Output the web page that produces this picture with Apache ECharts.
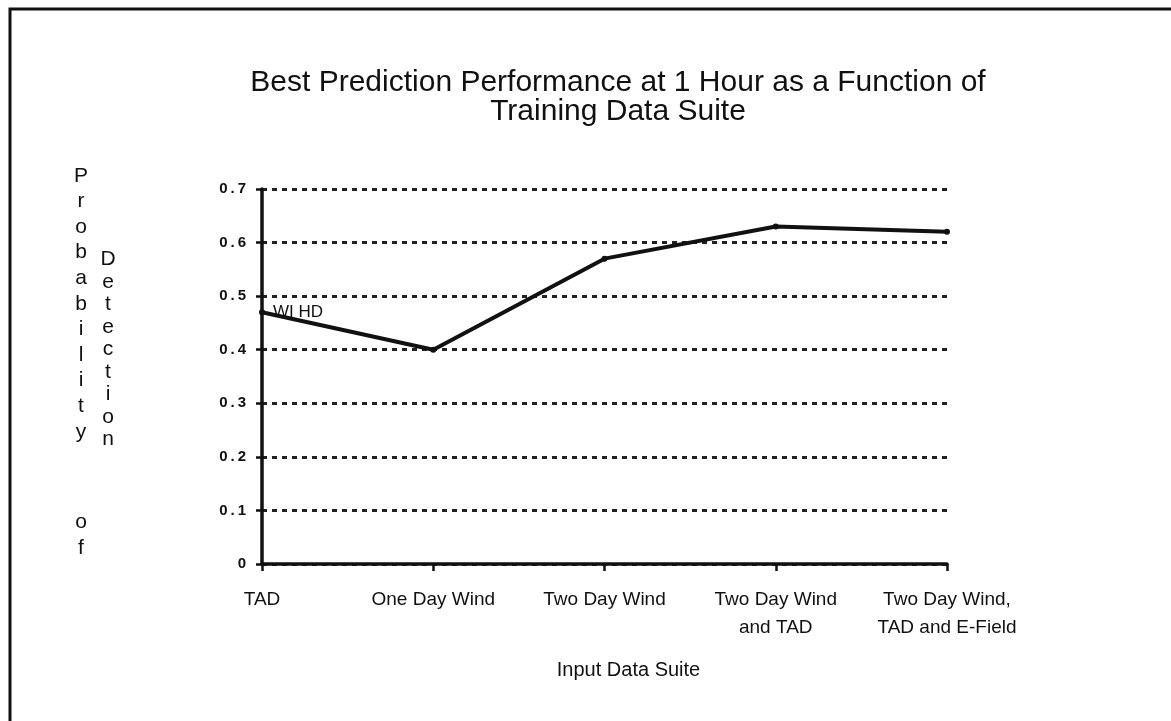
<!DOCTYPE html>
<html>
<head>
<meta charset="utf-8">
<script src="https://cdn.jsdelivr.net/npm/echarts@6/dist/echarts.min.js"></script>
<style>
  html, body { margin: 0; padding: 0; background: #fff; }
  #chart { width: 1171px; height: 721px; }
</style>
</head>
<body>
<div id="chart"></div>
<script>
// data
const categories = ['TAD', 'One Day Wind', 'Two Day Wind', 'Two Day Wind\nand TAD', 'Two Day Wind,\nTAD and E-Field'];
const detection = [0.47, 0.40, 0.57, 0.63, 0.62];
const pointNote = 'WI HD';
const titleText = 'Best Prediction Performance at 1 Hour as a Function of\nTraining Data Suite';
const yNameA = 'Probability';
const yNameB = 'of';
const yNameC = 'Detection';
const xName = 'Input Data Suite';

const font = '"Liberation Sans", Arial, Helvetica, sans-serif';
const ink = '#111';

const chart = echarts.init(document.getElementById('chart'));

const seriesData = detection.map((v, i) => {
  if (i === 0) {
    return {
      value: v,
      label: {
        show: true, position: 'right', distance: 8,
        formatter: pointNote, color: ink, fontSize: 17, fontFamily: font
      }
    };
  }
  return v;
});

const option = {
  backgroundColor: '#fff',
  animation: false,
  title: {
    text: titleText,
    left: 613,
    top: 63,
    textAlign: 'center',
    textStyle: { color: ink, fontSize: 30, fontWeight: 'normal', fontFamily: font, lineHeight: 29 }
  },
  grid: { left: 262, right: 224, top: 189, bottom: 157 },
  xAxis: {
    type: 'category',
    data: categories,
    boundaryGap: false,
    name: xName,
    nameLocation: 'middle',
    nameGap: 96,
    nameTextStyle: { color: ink, fontSize: 20, fontFamily: font, padding: [0, 0, 0, 48] },
    axisLine: { lineStyle: { color: ink, width: 3.5 } },
    axisTick: { show: true, interval: 0, length: 7, lineStyle: { color: ink, width: 2.5 } },
    axisLabel: { interval: 0, color: ink, fontSize: 19, fontFamily: font, margin: 22, lineHeight: 28 },
    splitLine: { show: false }
  },
  yAxis: {
    type: 'value',
    min: 0,
    max: 0.7,
    interval: 0.1,
    axisLine: { show: true, lineStyle: { color: ink, width: 3.5 } },
    axisTick: { show: true, length: 6, lineStyle: { color: ink, width: 2.5 } },
    axisLabel: {
      color: ink, fontSize: 15, fontWeight: 'bold', fontFamily: font, margin: 16,
      formatter: v => v === 0 ? '0' : v.toFixed(1).split('').join('\u2009')
    },
    splitLine: { show: true, lineStyle: { color: '#222', width: 3, type: [5, 5] } }
  },
  series: [{
    type: 'line',
    data: seriesData,
    symbol: 'circle',
    symbolSize: 6,
    itemStyle: { color: ink },
    lineStyle: { color: ink, width: 4 }
  }],
  graphic: [
    { type: 'rect', shape: { x: 10, y: 9, width: 1300, height: 900 }, style: { fill: 'none', stroke: ink, lineWidth: 3 } },
    { type: 'text', x: 81, y: 163, style: { text: yNameA.split('').join('\n'), fontSize: 21, fontFamily: font, lineHeight: 25.6, align: 'center', fill: ink } },
    { type: 'text', x: 81, y: 509, style: { text: yNameB.split('').join('\n'), fontSize: 21, fontFamily: font, lineHeight: 26, align: 'center', fill: ink } },
    { type: 'text', x: 108, y: 248, style: { text: yNameC.split('').join('\n'), fontSize: 21, fontFamily: font, lineHeight: 22.5, align: 'center', fill: ink } }
  ]
};

chart.setOption(option);
</script>
</body>
</html>
